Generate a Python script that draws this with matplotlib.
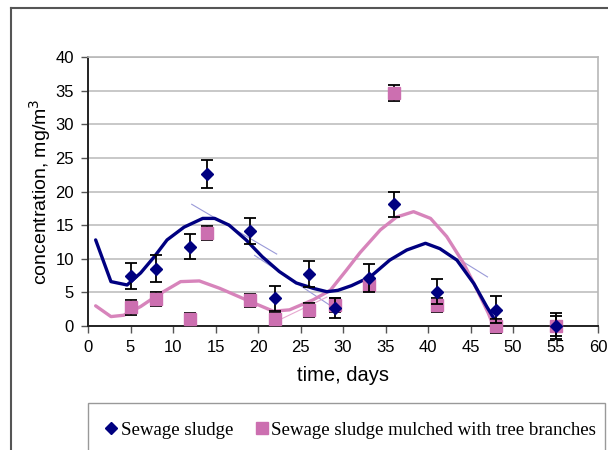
import matplotlib.pyplot as plt
import numpy as np
from matplotlib.patches import Rectangle
from matplotlib.lines import Line2D

# measured points (day, mg/m3) with error bars
days = [5, 8, 12, 14, 19, 22, 26, 29, 33, 36, 41, 48, 55]
sludge = [7.4, 8.5, 11.8, 22.6, 14.1, 4.1, 7.7, 2.7, 7.1, 18.1, 5.1, 2.4, 0.0]
sludge_err = [1.9, 2.0, 1.9, 2.1, 1.9, 1.9, 1.9, 1.5, 2.1, 1.9, 1.9, 2.0, 1.9]
mulched = [2.8, 4.0, 1.0, 13.8, 3.8, 1.0, 2.4, 3.1, 6.1, 34.6, 3.1, 0.0, 0.0]
mulched_err = [1.1, 1.0, 0.9, 1.0, 1.0, 0.9, 1.0, 1.0, 0.9, 1.2, 1.0, 1.0, 1.5]

# smoothed trend curves
sludge_curve_x = [0.9, 2.7, 4.6, 6.2, 7.8, 9.3, 11.3, 13.5, 14.9, 16.6, 18.6, 20.5, 22.5,
                  24.5, 26.5, 28.1, 29.4, 31.0, 33.2, 35.5, 37.5, 39.7, 41.4, 43.4,
                  45.4, 46.9, 48.3]
sludge_curve_y = [12.8, 6.6, 6.1, 7.9, 10.3, 12.8, 14.7, 16.0, 16.0, 15.0, 12.8, 10.3, 8.1,
                  6.4, 5.6, 5.1, 5.3, 6.0, 7.3, 9.8, 11.3, 12.3, 11.5, 9.8,
                  6.3, 2.9, 0.0]
mulched_curve_x = [0.9, 2.7, 4.2, 6.2, 8.2, 10.9, 13.1, 15.5, 18.6, 21.8, 23.7, 26.5, 28.5,
                   30.4, 32.0, 34.4, 36.3, 38.3, 40.3, 42.2, 44.2, 45.8, 47.1, 47.7]
mulched_curve_y = [3.0, 1.4, 1.6, 2.9, 4.6, 6.6, 6.7, 5.6, 3.9, 2.2, 2.4, 3.9, 5.3,
                   8.3, 10.9, 14.3, 16.2, 17.0, 16.0, 13.3, 9.3, 5.3, 1.9, 0.0]

# thin trendline fragments
thin_blue = [([12.2, 22.2], [18.1, 10.7]), ([19.6, 28.8], [10.5, 2.8]), ([43.8, 47.0], [9.8, 7.3])]
thin_pink = [([22.5, 28.1], [0.9, 4.3])]

navy = '#000080'
pink = '#cc6fb0'
pink_line = '#d784bb'

plt.rcParams['font.family'] = ['Liberation Sans', 'DejaVu Sans']

fig = plt.figure(figsize=(6.08, 4.5), dpi=100)
W, H = 608, 450
ax = fig.add_axes([88 / W, 1 - 326 / H, 510 / W, 269 / H])

ax.set_xlim(0, 60)
ax.set_ylim(0, 40)
ax.set_xticks(np.arange(0, 61, 5))
ax.set_yticks(np.arange(0, 41, 5))
ax.grid(True, axis='y', color='#c4c4c4', linewidth=1.3)
ax.set_axisbelow(True)
ax.tick_params(direction='out', length=5, width=1, color='#555555', labelsize=12, pad=5)

for s in ['top', 'right']:
    ax.spines[s].set_color('#b8b8b8')
    ax.spines[s].set_linewidth(1.2)
for s in ['left', 'bottom']:
    ax.spines[s].set_color('#222222')
    ax.spines[s].set_linewidth(1.4)

for xs, ys in thin_blue:
    ax.plot(xs, ys, color='#9a9ad8', linewidth=0.8, zorder=2)
for xs, ys in thin_pink:
    ax.plot(xs, ys, color='#e6a8d0', linewidth=0.8, zorder=2)

ax.plot(mulched_curve_x, mulched_curve_y, color=pink_line, linewidth=2.4, zorder=3,
        solid_capstyle='round', solid_joinstyle='round', clip_on=False)
ax.plot(sludge_curve_x, sludge_curve_y, color=navy, linewidth=2.4, zorder=4,
        solid_capstyle='round', solid_joinstyle='round', clip_on=False)

ax.errorbar(days, mulched, yerr=mulched_err, fmt='s', color=pink, markersize=8,
            ecolor='black', elinewidth=1.3, capsize=4, capthick=1.3, zorder=5, clip_on=False)
ax.errorbar(days, sludge, yerr=sludge_err, fmt='D', color=navy, markersize=6,
            ecolor='black', elinewidth=1.3, capsize=4, capthick=1.3, zorder=6, clip_on=False)

ax.set_xlabel('time, days', fontsize=14.5, labelpad=8)
ax.set_ylabel('concentration, mg/m$^3$', fontsize=14, labelpad=2)

# outer frame of the chart object
fig.add_artist(Line2D([11 / W, 11 / W], [0, 1 - 8 / H], color='#555555', linewidth=1.5))
fig.add_artist(Line2D([11 / W, 1], [1 - 8 / H, 1 - 8 / H], color='#555555', linewidth=1.5))

# legend box below the plot
fig.add_artist(Rectangle((88 / W, -0.05), (605 - 88) / W, (0.05 + 1 - 403 / H),
                         transform=fig.transFigure, fill=False, edgecolor='#999999', linewidth=1))
handles = [Line2D([], [], marker='D', color=navy, linestyle='none', markersize=6),
           Line2D([], [], marker='s', color=pink, linestyle='none', markersize=8)]
fig.legend(handles, ['Sewage sludge', 'Sewage sludge mulched with tree branches'],
           loc='center', bbox_to_anchor=(349 / W, 1 - 430 / H), ncol=2, frameon=False,
           prop={'family': 'Liberation Serif', 'size': 13.6}, handletextpad=0.0,
           columnspacing=1.0, handlelength=1.0)

fig.savefig('out.png', dpi=100)
